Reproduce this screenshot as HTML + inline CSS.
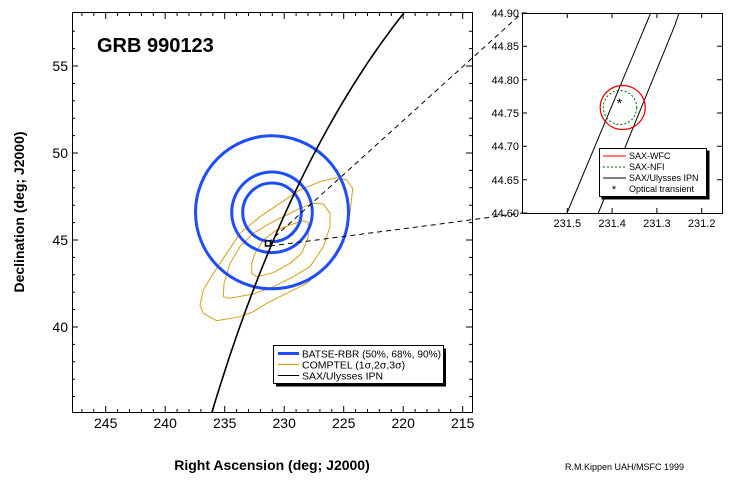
<!DOCTYPE html>
<html><head><meta charset="utf-8"><style>body{margin:0;background:#fff}svg{display:block}</style></head><body>
<svg width="736" height="492" viewBox="0 0 736 492" xmlns="http://www.w3.org/2000/svg" font-family="Liberation Sans, sans-serif">
<rect width="736" height="492" fill="#fff"/>
<g id="ticks" stroke="#000" stroke-width="1">
<path d="M72.5 12.5H472.5V412.5H72.5Z" fill="none"/>
<path d="M105.7 412v-6M165.2 412v-6M224.7 412v-6M284.2 412v-6M343.7 412v-6M403.2 412v-6M462.7 412v-6M105.7 13v6M165.2 13v6M224.7 13v6M284.2 13v6M343.7 13v6M403.2 13v6M462.7 13v6"/>
<path d="M72 66h6M72 153h6M72 240h6M72 327h6M472 66h-6M472 153h-6M472 240h-6M472 327h-6"/>
<path d="M72 31.2h3M72 48.6h3M72 83.4h3M72 100.8h3M72 118.2h3M72 135.6h3M72 170.4h3M72 187.8h3M72 205.2h3M72 222.6h3M72 257.4h3M72 274.8h3M72 292.2h3M72 309.6h3M72 344.4h3M72 361.8h3M72 379.2h3M72 396.6h3M472 31.2h-3M472 48.6h-3M472 83.4h-3M472 100.8h-3M472 118.2h-3M472 135.6h-3M472 170.4h-3M472 187.8h-3M472 205.2h-3M472 222.6h-3M472 257.4h-3M472 274.8h-3M472 292.2h-3M472 309.6h-3M472 344.4h-3M472 361.8h-3M472 379.2h-3M472 396.6h-3"/>
<path d="M81.9 412v-3M93.8 412v-3M117.6 412v-3M129.5 412v-3M141.4 412v-3M153.3 412v-3M177.1 412v-3M189 412v-3M200.9 412v-3M212.8 412v-3M236.6 412v-3M248.5 412v-3M260.4 412v-3M272.3 412v-3M296.1 412v-3M308 412v-3M319.9 412v-3M331.8 412v-3M355.6 412v-3M367.5 412v-3M379.4 412v-3M391.3 412v-3M415.1 412v-3M427 412v-3M438.9 412v-3M450.8 412v-3M81.9 13v3M93.8 13v3M117.6 13v3M129.5 13v3M141.4 13v3M153.3 13v3M177.1 13v3M189 13v3M200.9 13v3M212.8 13v3M236.6 13v3M248.5 13v3M260.4 13v3M272.3 13v3M296.1 13v3M308 13v3M319.9 13v3M331.8 13v3M355.6 13v3M367.5 13v3M379.4 13v3M391.3 13v3M415.1 13v3M427 13v3M438.9 13v3M450.8 13v3"/>
</g>
<g font-size="14" text-anchor="end" fill="#000">
<text x="68" y="71">55</text><text x="68" y="158">50</text><text x="68" y="245">45</text><text x="68" y="332">40</text>
</g>
<g font-size="14" text-anchor="middle">
<text x="105.7" y="428">245</text><text x="165.2" y="428">240</text><text x="224.7" y="428">235</text><text x="284.2" y="428">230</text><text x="343.7" y="428">225</text><text x="403.2" y="428">220</text><text x="462.7" y="428">215</text>
</g>
<text x="272" y="470" font-size="14" font-weight="bold" text-anchor="middle">Right Ascension (deg; J2000)</text>
<text transform="translate(24,212) rotate(-90)" font-size="14" font-weight="bold" text-anchor="middle">Declination (deg; J2000)</text>
<text x="97" y="52" font-size="20" font-weight="bold">GRB 990123</text>
<text x="565" y="470" font-size="9">R.M.Kippen UAH/MSFC 1999</text>
<g fill="none" stroke="#d4a017" stroke-width="1">
<polygon points="200,305 203.3,313.3 216.7,320.7 240,316.7 253.3,311.7 266.7,303.3 286.7,293.3 306.7,283.3 326.7,266.7 343.3,240 350,213.3 352.7,188.3 346.7,180 336.7,177.7 320,181.7 300,190 280,203.3 260,216.7 240,233.3 226.7,253.3 213.3,273.3 203.3,290"/>
<polygon points="223.3,296.7 230,298.3 253.3,294 273.3,286.7 293.3,276.7 310,266.7 323.3,246.7 330,226.7 330,213.3 323.3,204 313.3,203.3 300,208.3 286.7,215 270,223.3 253.3,233.3 240,246.7 230,263.3 224,283.3"/>
<polygon points="251.7,273.3 256.7,276.7 273.3,272.7 290,263.3 301.7,253.3 308.3,236.7 308.3,222.7 303.3,220.7 290,225 276.7,230 263.3,240 255,253.3 251.7,263.3"/>
</g>
<g fill="none" stroke="#1e4dff" stroke-width="3">
<circle cx="272" cy="212.3" r="76.5"/><circle cx="272" cy="212.3" r="40.3"/><circle cx="272" cy="212.3" r="29.3"/>
</g>
<path d="M212 412 Q287.4 160.6 404 12.7" fill="none" stroke="#000" stroke-width="1.6"/>
<g fill="none" stroke="#000" stroke-width="1" stroke-dasharray="5,4">
<path d="M268 243 L522 13"/>
<path d="M270 246 L440 224 L522 213"/>
</g>
<rect x="265.5" y="241" width="5" height="5" fill="#fff" stroke="#000" stroke-width="1.5"/>
<rect x="276" y="348.5" width="170" height="38" fill="#000"/>
<rect x="273.5" y="345.5" width="170" height="38" fill="#fff" stroke="#000"/>
<g font-size="10.5">
<line x1="278" y1="353.5" x2="299" y2="353.5" stroke="#1e4dff" stroke-width="3"/><text x="302" y="357.5" textLength="139" lengthAdjust="spacingAndGlyphs">BATSE-RBR (50%, 68%, 90%)</text>
<line x1="278" y1="364.5" x2="299" y2="364.5" stroke="#d4a017"/><text x="302" y="368.5">COMPTEL (1σ,2σ,3σ)</text>
<line x1="278" y1="375.5" x2="299" y2="375.5" stroke="#000"/><text x="302" y="379.5">SAX/Ulysses IPN</text>
</g>
<rect x="522.5" y="13.5" width="200" height="200" fill="#fff" stroke="#000"/>
<g stroke="#000">
<path d="M522 13h5M522 46.3h5M522 79.7h5M522 113h5M522 146.3h5M522 179.7h5M522 213h5M722 46.3h-5M722 79.7h-5M722 113h-5M722 146.3h-5M722 179.7h-5M567.3 213v-5M612.1 213v-5M656.9 213v-5M701.7 213v-5M567.3 13v5M612.1 13v5M656.9 13v5M701.7 13v5"/>
</g>
<g font-size="11" text-anchor="end">
<text x="519" y="17">44.90</text><text x="519" y="50">44.85</text><text x="519" y="84">44.80</text><text x="519" y="117">44.75</text><text x="519" y="150">44.70</text><text x="519" y="184">44.65</text><text x="519" y="217">44.60</text>
</g>
<g font-size="11" text-anchor="middle">
<text x="567.3" y="227">231.5</text><text x="612.1" y="227">231.4</text><text x="656.9" y="227">231.3</text><text x="701.7" y="227">231.2</text>
</g>
<g fill="none" stroke="#000">
<path d="M567 213 L650.7 13"/>
<path d="M598.3 213 L675 25 L679 13"/>
</g>
<ellipse cx="622.7" cy="107.5" rx="22.5" ry="22" fill="none" stroke="#e00" stroke-width="1.2"/>
<ellipse cx="620" cy="107.5" rx="16.7" ry="17" fill="none" stroke="#060" stroke-dasharray="2,2"/>
<text x="619.5" y="108" font-size="14" text-anchor="middle">*</text>
<rect x="601.5" y="150.5" width="108" height="49" fill="#000"/>
<rect x="599.5" y="148.5" width="107" height="48" fill="#fff" stroke="#000"/>
<g font-size="9">
<line x1="603" y1="156" x2="626" y2="156" stroke="#e00"/><text x="629" y="159">SAX-WFC</text>
<line x1="603" y1="167" x2="626" y2="167" stroke="#060" stroke-dasharray="2,2"/><text x="629" y="170">SAX-NFI</text>
<line x1="603" y1="178" x2="626" y2="178" stroke="#000"/><text x="629" y="181">SAX/Ulysses IPN</text>
<text x="614" y="193" text-anchor="middle" font-size="11">*</text><text x="629" y="192">Optical transient</text>
</g>
</svg>
</body></html>
